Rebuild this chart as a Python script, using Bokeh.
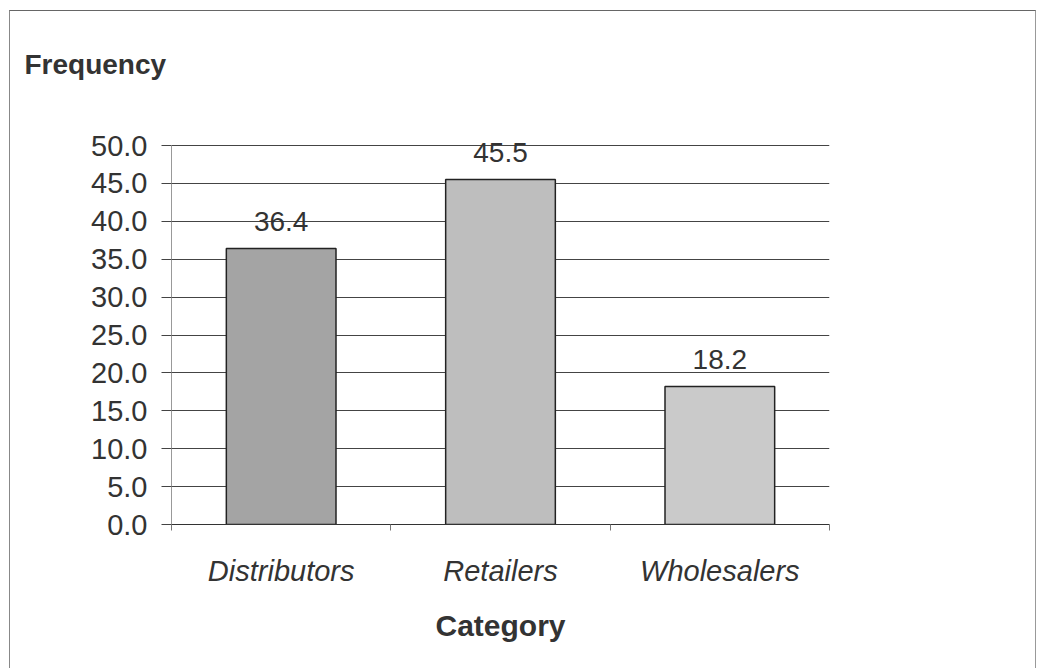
from bokeh.plotting import figure
from bokeh.models import (ColumnDataSource, FixedTicker, NumeralTickFormatter,
                          Label, Range1d)
from bokeh.embed import file_html
from bokeh.resources import INLINE

categories = ["Distributors", "Retailers", "Wholesalers"]
values = [36.4, 45.5, 18.2]
bar_colors = ["#a4a4a4", "#bebebe", "#cacaca"]
y_ticks = [0, 5, 10, 15, 20, 25, 30, 35, 40, 45, 50]

FONT = "Liberation Sans"

xs = [i + 0.5 for i in range(len(categories))]
src = ColumnDataSource(dict(x=xs, top=values, color=bar_colors))

# frame extends a bit above 50 so that the top value label is not clipped
Y_TOP = 50 * 414 / 379

p = figure(width=1027, height=658, output_backend="svg", toolbar_location=None,
           x_range=Range1d(0, len(categories)), y_range=Range1d(0, Y_TOP),
           min_border_left=161, min_border_right=208,
           min_border_top=99, min_border_bottom=145,
           title="Frequency")
p.margin = (10, 0, 0, 9)
p.styles = {"border-top": "1.5px solid #666666",
            "border-left": "1.5px solid #888888",
            "border-right": "1.5px solid #999999"}
p.outline_line_color = None
p.background_fill_color = "white"
p.border_fill_color = "white"

p.title.align = "left"
p.title.offset = -147
p.title.text_font = FONT
p.title.text_font_size = "28px"
p.title.text_font_style = "bold"
p.title.text_color = "#333333"
p.title.standoff = 62

p.vbar(x="x", top="top", width=0.5, bottom=0, source=src,
       fill_color="color", line_color="#222222", line_width=1.5)

# value labels
for x, v in zip(xs, values):
    p.add_layout(Label(x=x, y=v, y_offset=27, text=f"{v:.1f}",
                       text_align="center", text_baseline="alphabetic",
                       text_font=FONT, text_font_size="28px",
                       text_color="#333333"))

# y axis
p.yaxis.ticker = FixedTicker(ticks=y_ticks)
p.yaxis.bounds = (0, 50)
p.yaxis.formatter = NumeralTickFormatter(format="0.0")
p.yaxis.major_label_text_font = FONT
p.yaxis.major_label_text_font_size = "29px"
p.yaxis.major_label_text_color = "#333333"
p.yaxis.major_tick_out = 10
p.yaxis.major_tick_in = 0
p.yaxis.major_tick_line_color = "#444444"
p.yaxis.minor_tick_line_color = None
p.yaxis.axis_line_color = "#999999"
p.yaxis.major_label_standoff = 14

# x axis
p.xaxis.ticker = FixedTicker(ticks=xs, minor_ticks=list(range(len(categories) + 1)))
p.xaxis.major_label_overrides = {x: c for x, c in zip(xs, categories)}
p.xaxis.major_tick_line_color = None
p.xaxis.minor_tick_out = 6
p.xaxis.minor_tick_in = 0
p.xaxis.minor_tick_line_color = "#777777"
p.xaxis.axis_line_color = "#333333"
p.xaxis.major_label_text_font = FONT
p.xaxis.major_label_text_font_size = "29px"
p.xaxis.major_label_text_font_style = "italic"
p.xaxis.major_label_text_color = "#333333"
p.xaxis.major_label_standoff = 24
p.xaxis.axis_label = "Category"
p.xaxis.axis_label_text_font = FONT
p.xaxis.axis_label_text_font_size = "30px"
p.xaxis.axis_label_text_font_style = "bold"
p.xaxis.axis_label_text_color = "#333333"
p.xaxis.axis_label_standoff = 19

# grid
p.xgrid.grid_line_color = None
p.ygrid.ticker = FixedTicker(ticks=y_ticks)
p.ygrid.grid_line_color = "#444444"
p.ygrid.grid_line_width = 1

open("out.html", "w").write(file_html(p, INLINE))
